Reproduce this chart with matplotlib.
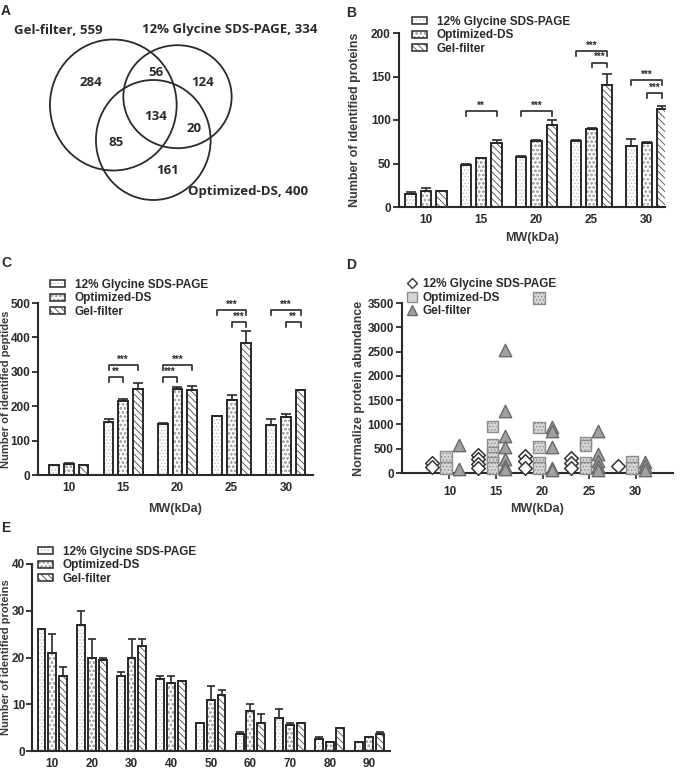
import numpy as np
import matplotlib
matplotlib.use('Agg')
import matplotlib.pyplot as plt
from matplotlib.patches import Ellipse, Patch
from matplotlib.lines import Line2D

plt.rcParams['font.family'] = ['Liberation Sans', 'DejaVu Sans']
plt.rcParams['hatch.linewidth'] = 0.6

# ---------------- data ----------------
series = ['12% Glycine SDS-PAGE', 'Optimized-DS', 'Gel-filter']

# Panel A (Venn)
venn_names = ['Gel-filter', '12% Glycine SDS-PAGE', 'Optimized-DS']
venn_totals = [559, 334, 400]
venn_regions = ['284', '56', '124', '134', '20', '85', '161']

# Panel B: identified proteins per MW band
mw_b = ['10', '15', '20', '25', '30']
b_sds = [15, 48, 58, 76, 70]
b_sds_err = [2, 2, 0.5, 0.5, 8]
b_opt = [18, 56, 76, 90, 73]
b_opt_err = [4, 0.5, 0.5, 0.5, 1.5]
b_gel = [18, 74, 94, 140, 113]
b_gel_err = [0.5, 3, 6, 13, 3]
b_sig = [(1, 0, 2, 110, '**'), (2, 0, 2, 110, '***'), (3, 0, 2, 179, '***'),
         (3, 1, 2, 166, '***'), (4, 0, 2, 146, '***'), (4, 1, 2, 131, '***')]

# Panel C: identified peptides
c_sds = [29, 153, 148, 172, 145]
c_sds_err = [0, 9, 4, 0, 17]
c_opt = [31, 216, 251, 218, 169]
c_opt_err = [5, 4, 5, 16, 7]
c_gel = [30, 250, 247, 385, 248]
c_gel_err = [0, 16, 12, 33, 0]
c_sig = [(1, 0, 2, 319, '***'), (1, 0, 1, 285, '**'), (2, 0, 2, 319, '***'),
         (2, 0, 1, 285, '***'), (3, 0, 2, 479, '***'), (3, 1, 2, 445, '***'),
         (4, 0, 2, 479, '***'), (4, 1, 2, 445, '**')]

# Panel D: normalized protein abundance
mw_d = [10, 15, 20, 25, 30]
d_sds = [[200, 120], [380, 290, 190, 100], [340, 240, 100], [310, 210, 100], [140]]
d_opt = [[340, 100], [960, 580, 410, 310, 210, 100], [3600, 940, 535, 220, 100],
         [630, 570, 220, 100], [240, 100]]
d_gel = [[580, 80], [2540, 1270, 770, 530, 290, 150, 80], [940, 860, 535, 100, 70],
         [860, 390, 240, 140, 70], [220, 140, 70]]

# Panel E: identified proteins by MW (10-90 kDa)
mw_e = ['10', '20', '30', '40', '50', '60', '70', '80', '90']
e_sds = [26, 27, 16, 15.5, 6, 3.6, 7, 2.5, 2]
e_sds_err = [0, 3, 1, 0.5, 0, 0.5, 2, 0.5, 0]
e_opt = [21, 20, 20, 14.5, 11, 8.5, 5.5, 2, 3]
e_opt_err = [4, 4, 4, 1.5, 3, 1.5, 0.5, 0, 0]
e_gel = [16, 19.5, 22.5, 15, 12, 6, 6, 5, 3.6]
e_gel_err = [2, 0.4, 1.5, 0, 1, 2, 0, 0, 0.4]

# ---------------- styling ----------------
W, H = 684, 776
fig = plt.figure(figsize=(W / 100, H / 100), dpi=100)
DARK = '#2a2a2a'
LABC = '#3a3a3a'
hatches = ['.....', 'oooo', '\\\\\\\\\\']
hatch_cols = ['#bdbdbd', '#ababab', '#4a4a4a']
TICKFS = 8.5
LABFS = 9


def px_axes(l, t, r, b):
    return fig.add_axes([l / W, 1 - b / H, (r - l) / W, (b - t) / H])


def style_axes(ax, ymax, yticks, ypad=2):
    for s in ['top', 'right']:
        ax.spines[s].set_visible(False)
    for s in ['left', 'bottom']:
        ax.spines[s].set_linewidth(1.5)
        ax.spines[s].set_color(DARK)
    ax.set_ylim(0, ymax)
    ax.set_yticks(yticks)
    ax.tick_params(axis='y', length=4, width=1.3, color=DARK, labelsize=TICKFS, pad=ypad)
    ax.tick_params(axis='x', labelsize=TICKFS, pad=5)


def bar_legend(ax, x0, y0):
    handles = []
    for k in range(3):
        h1 = Patch(facecolor='white', hatch=hatches[k], edgecolor=hatch_cols[k], linewidth=0)
        h2 = Patch(facecolor='none', edgecolor=DARK, linewidth=1.1)
        handles.append((h1, h2))
    leg = ax.legend(handles, series, loc='upper left', bbox_to_anchor=(x0, y0),
                    frameon=False, fontsize=8.5, handlelength=1.3, handleheight=0.55,
                    handletextpad=0.8, labelspacing=0.12, borderpad=0, borderaxespad=0)
    for t in leg.get_texts():
        t.set_fontweight('bold')
        t.set_color(DARK)


def bar_panel(ax, cats, vals, errs, width, step, cap):
    x = np.arange(len(cats))
    for k, (v, e) in enumerate(zip(vals, errs)):
        xs = x + (k - 1) * step
        v = np.asarray(v, float)
        e = np.asarray(e, float)
        ax.bar(xs, v, width, color='white', hatch=hatches[k], edgecolor=hatch_cols[k],
               linewidth=0, zorder=2)
        ax.bar(xs, v, width, facecolor='none', edgecolor=DARK, linewidth=1.4, zorder=3)
        ax.errorbar(xs, v, yerr=[np.zeros_like(v), e], fmt='none', ecolor=DARK,
                    elinewidth=1.2, capsize=cap, capthick=1.2, zorder=4)
    ax.set_xticks(x)
    ax.set_xticklabels(cats)
    ax.tick_params(axis='x', length=0)
    return x


def sig_brackets(ax, sigs, step, drop):
    for g, i, j, y, lab in sigs:
        xa = g + (i - 1) * step
        xb = g + (j - 1) * step
        ax.plot([xa, xa, xb, xb], [y - drop, y, y, y - drop], color=DARK, lw=1.2,
                clip_on=False, zorder=5)
        ax.text((xa + xb) / 2, y + drop * 0.05, lab, ha='center', va='bottom',
                fontsize=7, fontweight='bold', color=DARK, clip_on=False)


def bold_ticks(ax):
    for t in ax.get_xticklabels() + ax.get_yticklabels():
        t.set_fontweight('bold')
        t.set_color(DARK)


# ---------------- Panel A ----------------
axA = px_axes(0, 0, 340, 230)
axA.set_xlim(0, 340)
axA.set_ylim(230, 0)
axA.axis('off')
circles = [(113.3, 105, 126.7, 131), (177.5, 96.7, 108.3, 103), (153.3, 140, 114.7, 120)]
for cx, cy, w, h in circles:
    axA.add_patch(Ellipse((cx, cy), w, h, facecolor='none', edgecolor=DARK, lw=1.3))
name_pos = [(58, 30), (230, 30), (248, 191)]
for (nx, ny), nm, tot in zip(name_pos, venn_names, venn_totals):
    axA.text(nx, ny, f'{nm}, {tot}', ha='center', va='center', fontsize=9.5,
             fontweight='bold', color=DARK, family=['Open Sans', 'DejaVu Sans'])
region_pos = [(91, 82), (156, 73), (203, 83), (156, 117), (194, 129), (116, 142), (168, 171)]
for (rx, ry), lab in zip(region_pos, venn_regions):
    axA.text(rx, ry, lab, ha='center', va='center', fontsize=9.5, fontweight='bold',
             color=DARK, family=['Open Sans', 'DejaVu Sans'])
fig.text(1 / W, 1 - 11 / H, 'A', fontsize=10, fontweight='bold', va='center', color=DARK)

# ---------------- Panel B ----------------
axB = px_axes(399, 33, 665, 207)
bar_panel(axB, mw_b, [b_sds, b_opt, b_gel], [b_sds_err, b_opt_err, b_gel_err], 0.19, 0.28, 3.6)
style_axes(axB, 200, [0, 50, 100, 150, 200])
axB.set_xlim(-0.49, 4.33)
sig_brackets(axB, b_sig, 0.28, 5.5)
axB.set_ylabel('Number of identified proteins', fontsize=LABFS, fontweight='bold', color=LABC)
axB.yaxis.set_label_coords(-0.143, 0.5)
axB.set_xlabel('MW(kDa)', fontsize=LABFS, fontweight='bold', color=LABC)
axB.xaxis.set_label_coords(0.5, -0.145)
bold_ticks(axB)
bar_legend(axB, 0.049, 1.098)
fig.text(346 / W, 1 - 13 / H, 'B', fontsize=10, fontweight='bold', va='center', color=DARK)

# ---------------- Panel C ----------------
axC = px_axes(38, 303, 313, 475)
bar_panel(axC, mw_b, [c_sds, c_opt, c_gel], [c_sds_err, c_opt_err, c_gel_err], 0.18, 0.27, 3.6)
style_axes(axC, 500, [0, 100, 200, 300, 400, 500], ypad=1.5)
axC.set_xlim(-0.57, 4.5)
sig_brackets(axC, c_sig, 0.27, 14)
axC.set_ylabel('Number of identified peptides', fontsize=8, fontweight='bold', color=LABC)
axC.yaxis.set_label_coords(-0.098, 0.5)
axC.set_xlabel('MW(kDa)', fontsize=LABFS, fontweight='bold', color=LABC)
axC.xaxis.set_label_coords(0.5, -0.16)
bold_ticks(axC)
bar_legend(axC, 0.044, 1.14)
fig.text(1 / W, 1 - 263 / H, 'C', fontsize=10, fontweight='bold', va='center', color=DARK)

# ---------------- Panel D ----------------
axD = px_axes(402, 303, 673, 473)
offs = [-1.9, -0.4, 1.0]
for k, groups in enumerate([d_sds, d_opt, d_gel]):
    for mw, vals in zip(mw_d, groups):
        xs = np.full(len(vals), mw + offs[k], dtype=float)
        if k == 0:
            axD.scatter(xs, vals, marker='D', s=48, facecolor='white', edgecolor='#333333',
                        linewidth=1.1, zorder=3, clip_on=False)
        elif k == 1:
            axD.scatter(xs, vals, marker='s', s=70, facecolor='#d6d6d6', edgecolor='#8c8c8c',
                        hatch='.....', linewidth=1.0, zorder=4, clip_on=False)
        else:
            axD.scatter(xs, vals, marker='^', s=80, facecolor='#a0a0a0', edgecolor='#6a6a6a',
                        linewidth=1.0, zorder=5, clip_on=False)
style_axes(axD, 3500, [0, 500, 1000, 1500, 2000, 2500, 3000, 3500])
axD.set_xlim(4.9, 34.0)
axD.set_xticks(mw_d)
axD.set_xticklabels([str(m) for m in mw_d])
axD.tick_params(axis='x', length=4, width=1.2, color=DARK)
axD.set_ylabel('Normalize protein abundance', fontsize=LABFS, fontweight='bold', color=LABC)
axD.yaxis.set_label_coords(-0.137, 0.5)
axD.set_xlabel('MW(kDa)', fontsize=LABFS, fontweight='bold', color=LABC)
axD.xaxis.set_label_coords(0.5, -0.175)
bold_ticks(axD)
dh = [Line2D([], [], marker='D', ls='none', ms=5, mfc='white', mec='#333333', mew=1.0),
      Line2D([], [], marker='s', ls='none', ms=7, mfc='#d6d6d6', mec='#8c8c8c', mew=1.0),
      Line2D([], [], marker='^', ls='none', ms=7, mfc='#a0a0a0', mec='#6a6a6a', mew=1.0)]
legD = axD.legend(dh, series, loc='upper left', bbox_to_anchor=(0.02, 1.145), frameon=False,
                  fontsize=8.5, handlelength=0.8, handletextpad=0.5, labelspacing=0.12,
                  borderpad=0, borderaxespad=0)
for t in legD.get_texts():
    t.set_fontweight('bold')
    t.set_color(DARK)
fig.text(346 / W, 1 - 265 / H, 'D', fontsize=10, fontweight='bold', va='center', color=DARK)

# ---------------- Panel E ----------------
axE = px_axes(32, 564, 390, 751)
bar_panel(axE, mw_e, [e_sds, e_opt, e_gel], [e_sds_err, e_opt_err, e_gel_err], 0.2, 0.27, 2.9)
style_axes(axE, 40, [0, 10, 20, 30, 40], ypad=1)
axE.set_xlim(-0.51, 8.52)
axE.set_ylabel('Number of identified proteins', fontsize=8, fontweight='bold', color=LABC)
axE.yaxis.set_label_coords(-0.060, 0.5)
bold_ticks(axE)
bar_legend(axE, 0.017, 1.096)
fig.text(1 / W, 1 - 528 / H, 'E', fontsize=10, fontweight='bold', va='center', color=DARK)

fig.savefig('out.png', dpi=100)
